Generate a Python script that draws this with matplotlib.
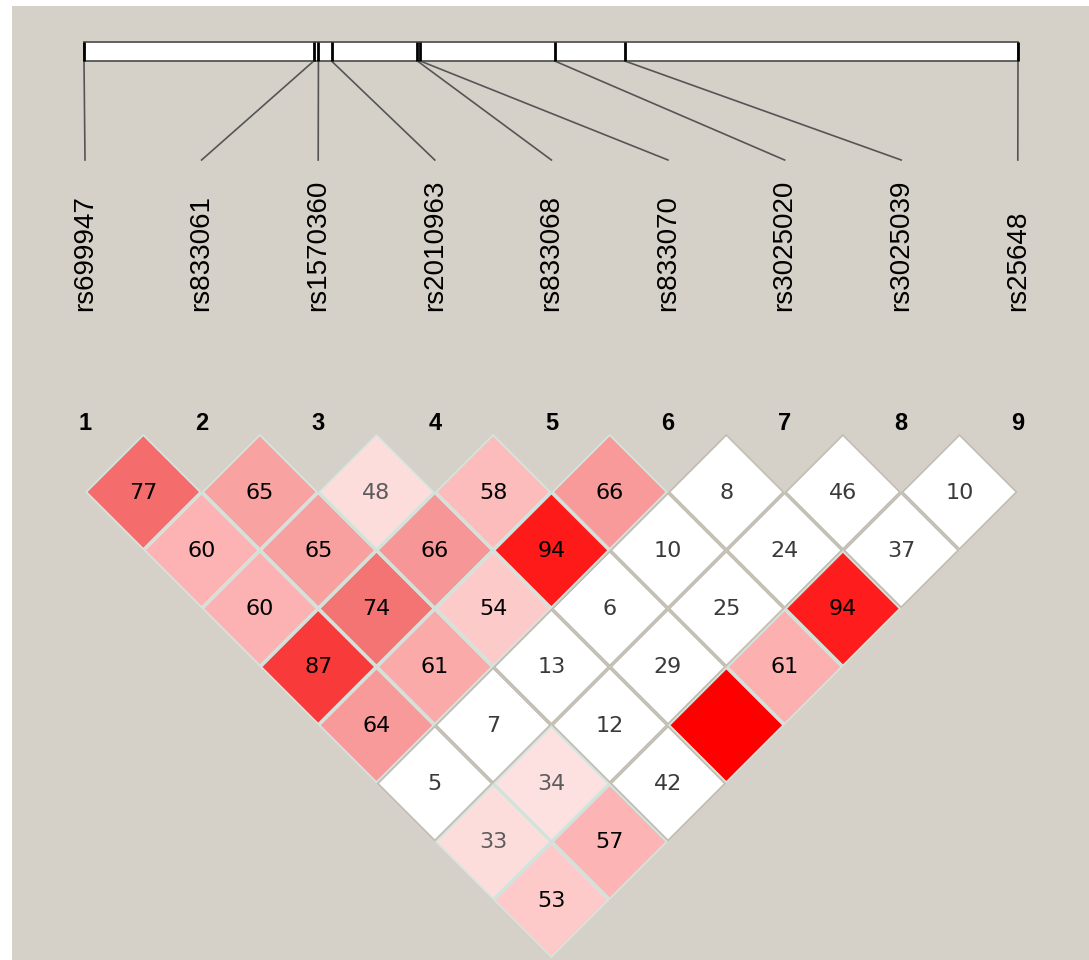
import matplotlib
matplotlib.use("Agg")
import matplotlib.pyplot as plt
from matplotlib.patches import Polygon, Rectangle

# ---------------- data ----------------
snp_names = ["rs699947", "rs833061", "rs1570360", "rs2010963", "rs833068",
             "rs833070", "rs3025020", "rs3025039", "rs25648"]
snp_index = [1, 2, 3, 4, 5, 6, 7, 8, 9]
# relative physical position of each SNP along the gene bar (0 = left end, 1 = right end)
snp_map_frac = [0.0, 0.246, 0.251, 0.265, 0.357, 0.360, 0.504, 0.579, 1.0]

# pairwise D' (x100) by marker distance (row k = pairs (i, i+k)); None = D'=1 (no number shown)
dprime_d1 = [77, 65, 48, 58, 66, 8, 46, 10]
dprime_d2 = [60, 65, 66, 94, 10, 24, 37]
dprime_d3 = [60, 74, 54, 6, 25, 94]
dprime_d4 = [87, 61, 13, 29, 61]
dprime_d5 = [64, 7, 12, None]
dprime_d6 = [5, 34, 42]
dprime_d7 = [33, 57]
dprime_d8 = [53]
dprime_rows = [dprime_d1, dprime_d2, dprime_d3, dprime_d4,
               dprime_d5, dprime_d6, dprime_d7, dprime_d8]

# ---------------- styles ----------------
color_rows = [
    ['#f46c6c', '#f9a2a2', '#fddcdc', '#fcbcbc', '#f99a9a', '#ffffff', '#ffffff', '#ffffff'],
    ['#fdb3b3', '#f8a0a0', '#f79696', '#ff1a1a', '#ffffff', '#ffffff', '#ffffff'],
    ['#fcb2b2', '#f47474', '#fdcaca', '#ffffff', '#ffffff', '#ff1c1c'],
    ['#f83a3a', '#fbaaaa', '#ffffff', '#ffffff', '#fcb0b0'],
    ['#f89a9a', '#ffffff', '#ffffff', '#ff0000'],
    ['#ffffff', '#fde0e0', '#ffffff'],
    ['#fddcdc', '#fcb4b4'],
    ['#fdc9c9'],
]
BG = '#d6d1c8'

W, H, DPI = 1089, 960, 100
S = 116.6          # pixels per marker step
X1 = 85.0          # pixel x of marker 1
Y1 = 492.0         # pixel y of first diamond row


def px2x(px):
    return 1 + (px - X1) / S


def py2y(py):
    return 0.5 + (py - Y1) / S


fig = plt.figure(figsize=(W / DPI, H / DPI), dpi=DPI, facecolor='white')
ax = fig.add_axes([0, 0, 1, 1])
ax.set_xlim(px2x(0), px2x(W))
ax.set_ylim(py2y(H), py2y(0))
ax.set_aspect('auto')
ax.axis('off')

# beige panel
ax.add_patch(Rectangle((px2x(12), py2y(6)), px2x(W) - px2x(12), py2y(H) - py2y(6),
                       facecolor=BG, edgecolor='none', zorder=0))

# gene bar
bar_l, bar_r = px2x(84), px2x(1018)
bar_top, bar_bot = py2y(42), py2y(61)
ax.add_patch(Rectangle((bar_l, bar_top), bar_r - bar_l, bar_bot - bar_top,
                       facecolor='white', edgecolor='#555555', lw=1.3, zorder=2))
label_top = py2y(160)
for idx, f in zip(snp_index, snp_map_frac):
    xm = bar_l + f * (bar_r - bar_l)
    ax.plot([xm, xm], [bar_top, bar_bot], color='black', lw=2.0, zorder=3,
            solid_capstyle='butt')
    ax.plot([xm, idx], [bar_bot, label_top], color='#555555', lw=1.2, zorder=2)

# SNP names
for idx, name in zip(snp_index, snp_names):
    ax.text(idx, py2y(311), name, rotation=90, ha='center', va='bottom',
            fontsize=20, family='Liberation Sans', color='black')
    ax.text(idx, py2y(423), str(idx), ha='center', va='center',
            fontsize=17, fontweight='bold', family='Liberation Sans', color='black')

# LD diamonds
h = 0.5
gap = 0.012
for k, (vals, cols) in enumerate(zip(dprime_rows, color_rows), start=1):
    for n, (v, c) in enumerate(zip(vals, cols)):
        i = snp_index[n]
        j = i + k
        cx, cy = (i + j) / 2, k / 2
        hh = h - gap
        poly = Polygon([(cx, cy - hh), (cx + hh, cy), (cx, cy + hh), (cx - hh, cy)],
                       closed=True, facecolor=c,
                       edgecolor='#c2bdb2' if c == '#ffffff' else '#d3e6df',
                       lw=1.2, zorder=2)
        ax.add_patch(poly)
        if v is not None:
            if c == '#ffffff':
                tc = '#3a3a3a'
            elif v < 50:
                tc = '#5c5c5c'
            else:
                tc = 'black'
            ax.text(cx, cy + 0.005, str(v), ha='center', va='center', fontsize=16,
                    family='DejaVu Sans', color=tc, zorder=4)

fig.savefig('out.png', dpi=DPI, facecolor='white')
